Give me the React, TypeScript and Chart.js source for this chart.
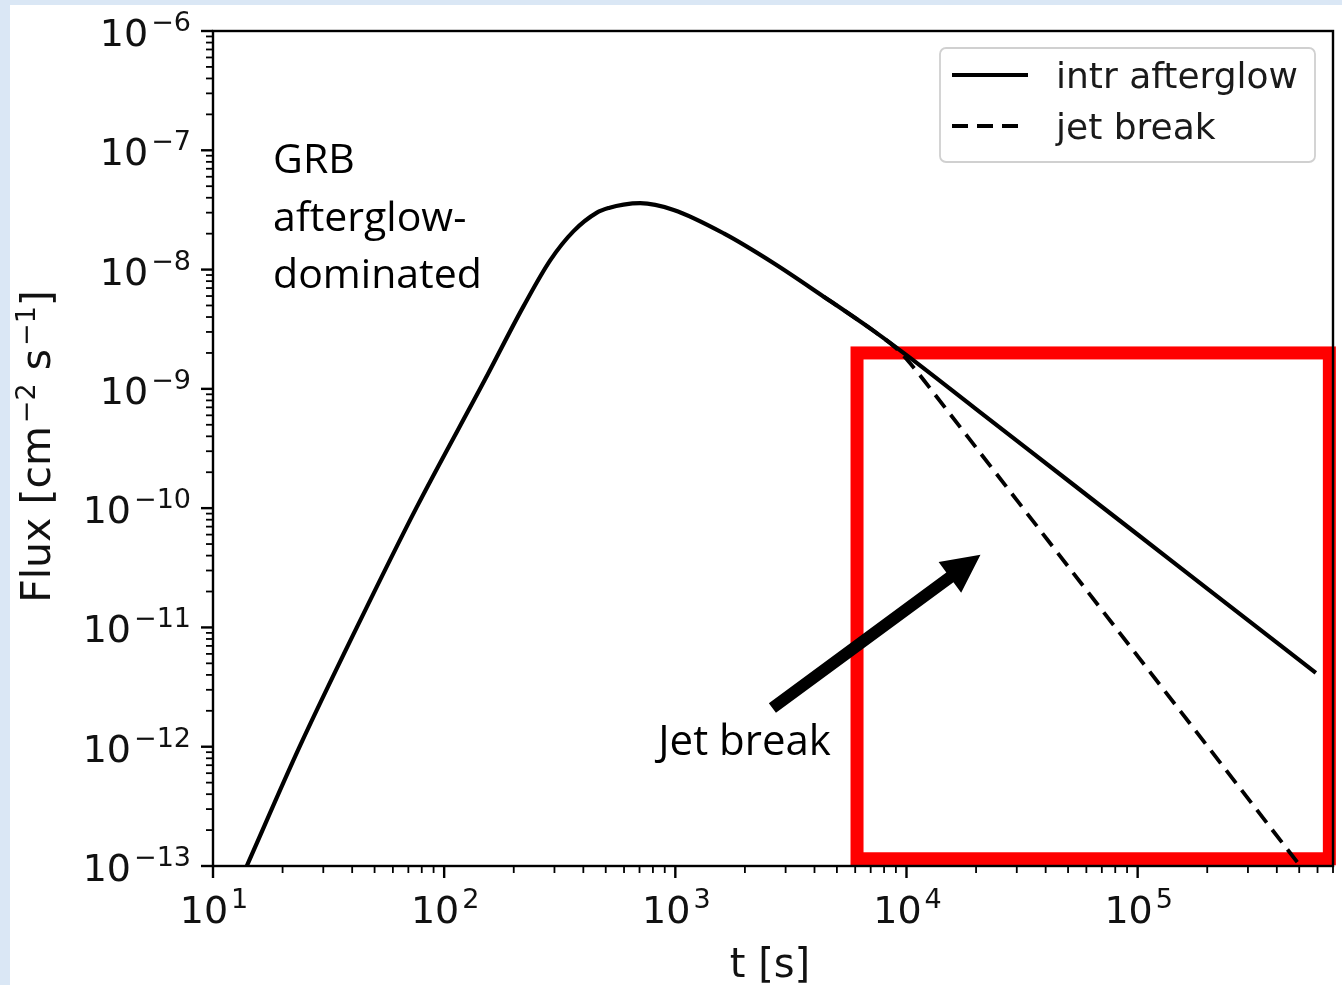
import React, { useEffect, useRef } from "react";
import { Chart, registerables } from "chart.js";

Chart.register(...registerables);

// Light curves: time since burst [s] and flux [cm^-2 s^-1]
const timeIntr = [14, 23.7, 41.9, 75.7, 150, 220, 288, 363, 458, 520, 597, 705, 984, 1620, 2666, 4385, 7230, 10070, 20000, 50000, 100000, 200000, 590000];
const fluxIntr = [1e-13, 1e-12, 1e-11, 1e-10, 1.19e-9, 4.89e-9, 1.2e-8, 2.1e-8, 3.0e-8, 3.3e-8, 3.5e-8, 3.6e-8, 3.16e-8, 2.01e-8, 1.13e-8, 5.93e-9, 3.05e-9, 1.9e-9, 6.77e-10, 1.705e-10, 6.01e-11, 2.117e-11, 4.16e-12];

const timeJet = [4385, 7230, 9000, 10000, 15000, 20000, 36800, 50000, 100000, 200000, 600000];
const fluxJet = [5.93e-9, 3.05e-9, 2.2e-9, 1.78e-9, 6.6e-10, 3.22e-10, 7.0e-11, 3.25e-11, 5.75e-12, 1.017e-12, 6.5e-14];

const seriesLabels = ["intr afterglow", "jet break"];

// Axis ranges and labelled decades
const tRange = [10, 7e5];
const fluxRange = [1e-13, 1e-6];
const tDecades = [1, 2, 3, 4, 5];
const fluxDecades = [-13, -12, -11, -10, -9, -8, -7, -6];

// Annotations in data coordinates
const noteLines = ["GRB", "afterglow-", "dominated"];
const noteAnchor = { t: 18.2, f: 6.45e-8 };
const jetNote = "Jet break";
const jetNoteAnchor = { t: 844, f: 8.53e-13 };
const arrowTail = { t: 2630, f: 2.11e-12 };
const arrowTip = { t: 2.09e4, f: 4.06e-11 };
const regionBox = { t0: 6.11e3, t1: 6.75e5, f0: 1.15e-13, f1: 2.0e-9 };

const W = 1342;
const H = 985;
const AXIS_FONT = '"DejaVu Sans", sans-serif';
const NOTE_FONT = '"Open Sans", "Noto Sans", sans-serif';

const logTicks = (min: number, max: number) => {
  const out: { value: number; major: boolean }[] = [];
  const e0 = Math.floor(Math.log10(min));
  const e1 = Math.ceil(Math.log10(max));
  for (let e = e0; e <= e1; e++) {
    for (let m = 1; m <= 9; m++) {
      const v = m * Math.pow(10, e);
      if (v >= min * 0.9999 && v <= max * 1.0001) out.push({ value: v, major: m === 1 });
    }
  }
  return out;
};

const MAIN_PX = 38;
const SUP_PX = 27;

const drawPower = (ctx: CanvasRenderingContext2D, exp: number, x: number, base: number, align: "center" | "right") => {
  const main = "10";
  const sup = exp < 0 ? "\u2212" + Math.abs(exp) : String(exp);
  ctx.font = `${MAIN_PX}px ${AXIS_FONT}`;
  const w1 = ctx.measureText(main).width;
  ctx.font = `${SUP_PX}px ${AXIS_FONT}`;
  const w2 = ctx.measureText(sup).width;
  const gap = 3;
  const total = w1 + gap + w2;
  const x0 = align === "center" ? x - total / 2 : x - total;
  ctx.textAlign = "left";
  ctx.textBaseline = "alphabetic";
  ctx.font = `${MAIN_PX}px ${AXIS_FONT}`;
  ctx.fillText(main, x0, base);
  ctx.font = `${SUP_PX}px ${AXIS_FONT}`;
  ctx.fillText(sup, x0 + w1 + gap, base - 15);
};

const framePlugin = {
  id: "frame",
  beforeDraw(chart: any) {
    const ctx = chart.ctx as CanvasRenderingContext2D;
    ctx.save();
    ctx.fillStyle = "#dae7f5";
    ctx.fillRect(0, 0, W, H);
    ctx.fillStyle = "#ffffff";
    ctx.fillRect(10, 5, W - 10, H - 5);
    ctx.restore();
  },
  beforeDatasetsDraw(chart: any) {
    const ctx = chart.ctx as CanvasRenderingContext2D;
    const xs = chart.scales.x;
    const ys = chart.scales.y;
    const x0 = xs.getPixelForValue(regionBox.t0);
    const x1 = xs.getPixelForValue(regionBox.t1);
    const y0 = ys.getPixelForValue(regionBox.f1);
    const y1 = ys.getPixelForValue(regionBox.f0);
    ctx.save();
    ctx.strokeStyle = "#ff0000";
    ctx.lineWidth = 13;
    ctx.lineJoin = "miter";
    ctx.strokeRect(x0, y0, x1 - x0, y1 - y0);
    ctx.restore();
  },
  afterDatasetsDraw(chart: any) {
    const ctx = chart.ctx as CanvasRenderingContext2D;
    const xs = chart.scales.x;
    const ys = chart.scales.y;
    // arrow pointing at the break
    const ax = xs.getPixelForValue(arrowTail.t);
    const ay = ys.getPixelForValue(arrowTail.f);
    const bx = xs.getPixelForValue(arrowTip.t);
    const by = ys.getPixelForValue(arrowTip.f);
    const len = Math.hypot(bx - ax, by - ay);
    const ux = (bx - ax) / len;
    const uy = (by - ay) / len;
    const px = -uy;
    const py = ux;
    const headLen = 38;
    const headHalf = 19;
    const shaftHalf = 6;
    const hx = bx - ux * headLen;
    const hy = by - uy * headLen;
    ctx.save();
    ctx.fillStyle = "#000000";
    ctx.beginPath();
    ctx.moveTo(ax + px * shaftHalf, ay + py * shaftHalf);
    ctx.lineTo(hx + px * shaftHalf, hy + py * shaftHalf);
    ctx.lineTo(hx + px * headHalf, hy + py * headHalf);
    ctx.lineTo(bx, by);
    ctx.lineTo(hx - px * headHalf, hy - py * headHalf);
    ctx.lineTo(hx - px * shaftHalf, hy - py * shaftHalf);
    ctx.lineTo(ax - px * shaftHalf, ay - py * shaftHalf);
    ctx.closePath();
    ctx.fill();
    ctx.restore();
  },
  afterDraw(chart: any) {
    const ctx = chart.ctx as CanvasRenderingContext2D;
    const area = chart.chartArea;
    const xs = chart.scales.x;
    const ys = chart.scales.y;
    ctx.save();

    // spines
    ctx.strokeStyle = "#000000";
    ctx.lineWidth = 2.4;
    ctx.strokeRect(area.left, area.top, area.right - area.left, area.bottom - area.top);

    // ticks
    for (const tk of logTicks(tRange[0], tRange[1])) {
      const x = xs.getPixelForValue(tk.value);
      ctx.lineWidth = tk.major ? 2.4 : 1.8;
      const l = tk.major ? 12 : 7;
      ctx.beginPath();
      ctx.moveTo(x, area.bottom);
      ctx.lineTo(x, area.bottom + l);
      ctx.stroke();
    }
    for (const tk of logTicks(fluxRange[0], fluxRange[1])) {
      const y = ys.getPixelForValue(tk.value);
      ctx.lineWidth = tk.major ? 2.4 : 1.8;
      const l = tk.major ? 12 : 7;
      ctx.beginPath();
      ctx.moveTo(area.left - l, y);
      ctx.lineTo(area.left, y);
      ctx.stroke();
    }

    // tick labels
    ctx.fillStyle = "#111111";
    for (const e of tDecades) {
      const x = xs.getPixelForValue(Math.pow(10, e));
      drawPower(ctx, e, x + 1, area.bottom + 57, "center");
    }
    for (const e of fluxDecades) {
      const y = ys.getPixelForValue(Math.pow(10, e));
      drawPower(ctx, e, area.left - 22, y + 15, "right");
    }

    // axis titles
    ctx.font = `40px ${AXIS_FONT}`;
    ctx.textAlign = "center";
    ctx.textBaseline = "alphabetic";
    ctx.fillText("t [s]", (area.left + area.right) / 2 - 3, 977);

    const parts: [string, boolean][] = [["Flux [cm", false], ["\u22122", true], [" s", false], ["\u22121", true], ["]", false]];
    const widths = parts.map(([s, sup]) => {
      ctx.font = `${sup ? 27 : 41}px ${AXIS_FONT}`;
      return ctx.measureText(s).width + (sup ? 3 : 0);
    });
    const totalW = widths.reduce((a, b) => a + b, 0);
    ctx.translate(50, (area.top + area.bottom) / 2 - 2);
    ctx.rotate(-Math.PI / 2);
    ctx.textAlign = "left";
    let cx = -totalW / 2;
    parts.forEach(([s, sup], i) => {
      ctx.font = `${sup ? 27 : 41}px ${AXIS_FONT}`;
      ctx.fillText(s, cx + (sup ? 3 : 0), sup ? -15 : 0);
      cx += widths[i];
    });
    ctx.setTransform(1, 0, 0, 1, 0, 0);

    // legend
    const lx = 940, ly = 48, lw = 375, lh = 114, r = 6;
    ctx.beginPath();
    ctx.moveTo(lx + r, ly);
    ctx.lineTo(lx + lw - r, ly);
    ctx.arcTo(lx + lw, ly, lx + lw, ly + r, r);
    ctx.lineTo(lx + lw, ly + lh - r);
    ctx.arcTo(lx + lw, ly + lh, lx + lw - r, ly + lh, r);
    ctx.lineTo(lx + r, ly + lh);
    ctx.arcTo(lx, ly + lh, lx, ly + lh - r, r);
    ctx.lineTo(lx, ly + r);
    ctx.arcTo(lx, ly, lx + r, ly, r);
    ctx.closePath();
    ctx.fillStyle = "rgba(255,255,255,0.85)";
    ctx.fill();
    ctx.strokeStyle = "#d0d0d0";
    ctx.lineWidth = 1.8;
    ctx.stroke();

    chart.data.datasets.forEach((ds: any, i: number) => {
      const yy = 75 + i * 51;
      const dash = ds.borderDash || [];
      ctx.strokeStyle = "#000000";
      ctx.lineWidth = ds.borderWidth;
      ctx.setLineDash(dash);
      ctx.beginPath();
      ctx.moveTo(952, yy);
      ctx.lineTo(dash.length ? 1018 : 1028, yy);
      ctx.stroke();
      ctx.setLineDash([]);
      ctx.fillStyle = "#1a1a1a";
      ctx.font = `36px ${AXIS_FONT}`;
      ctx.textAlign = "left";
      ctx.fillText(ds.label, 1056, yy + 13);
    });

    // notes
    ctx.fillStyle = "#000000";
    ctx.textAlign = "left";
    ctx.font = `41px ${NOTE_FONT}`;
    const nx = xs.getPixelForValue(noteAnchor.t);
    const ny = ys.getPixelForValue(noteAnchor.f);
    noteLines.forEach((s, i) => ctx.fillText(s, nx, ny + i * 57.5));
    ctx.font = `42px ${NOTE_FONT}`;
    ctx.fillText(jetNote, xs.getPixelForValue(jetNoteAnchor.t), ys.getPixelForValue(jetNoteAnchor.f));

    ctx.restore();
  },
};

export default function App() {
  const canvasRef = useRef<HTMLCanvasElement | null>(null);

  useEffect(() => {
    const canvas = canvasRef.current;
    if (!canvas) return;
    const chart = new Chart(canvas, {
      type: "line",
      data: {
        datasets: [
          {
            label: seriesLabels[0],
            data: timeIntr.map((t, i) => ({ x: t, y: fluxIntr[i] })),
            borderColor: "#000000",
            borderWidth: 4.2,
            pointRadius: 0,
            cubicInterpolationMode: "monotone",
            clip: 0,
          },
          {
            label: seriesLabels[1],
            data: timeJet.map((t, i) => ({ x: t, y: fluxJet[i] })),
            borderColor: "#000000",
            borderWidth: 3.8,
            borderDash: [16, 9],
            pointRadius: 0,
            cubicInterpolationMode: "monotone",
            clip: 0,
          },
        ],
      },
      options: {
        responsive: false,
        animation: false,
        layout: { padding: { left: 0, top: 31, right: 9, bottom: 0 } },
        plugins: { legend: { display: false }, tooltip: { enabled: false } },
        scales: {
          x: {
            type: "logarithmic",
            min: tRange[0],
            max: tRange[1],
            ticks: { display: false },
            grid: { display: false, drawTicks: false },
            border: { display: false },
            afterFit: (s: any) => {
              s.height = 119;
            },
          },
          y: {
            type: "logarithmic",
            min: fluxRange[0],
            max: fluxRange[1],
            ticks: { display: false },
            grid: { display: false, drawTicks: false },
            border: { display: false },
            afterFit: (s: any) => {
              s.width = 213;
            },
          },
        },
      },
      plugins: [framePlugin],
    });
    return () => chart.destroy();
  }, []);

  return (
    <div style={{ position: "fixed", left: 0, top: 0, width: W, height: H }}>
      <canvas ref={canvasRef} width={W} height={H} style={{ display: "block" }} />
    </div>
  );
}
